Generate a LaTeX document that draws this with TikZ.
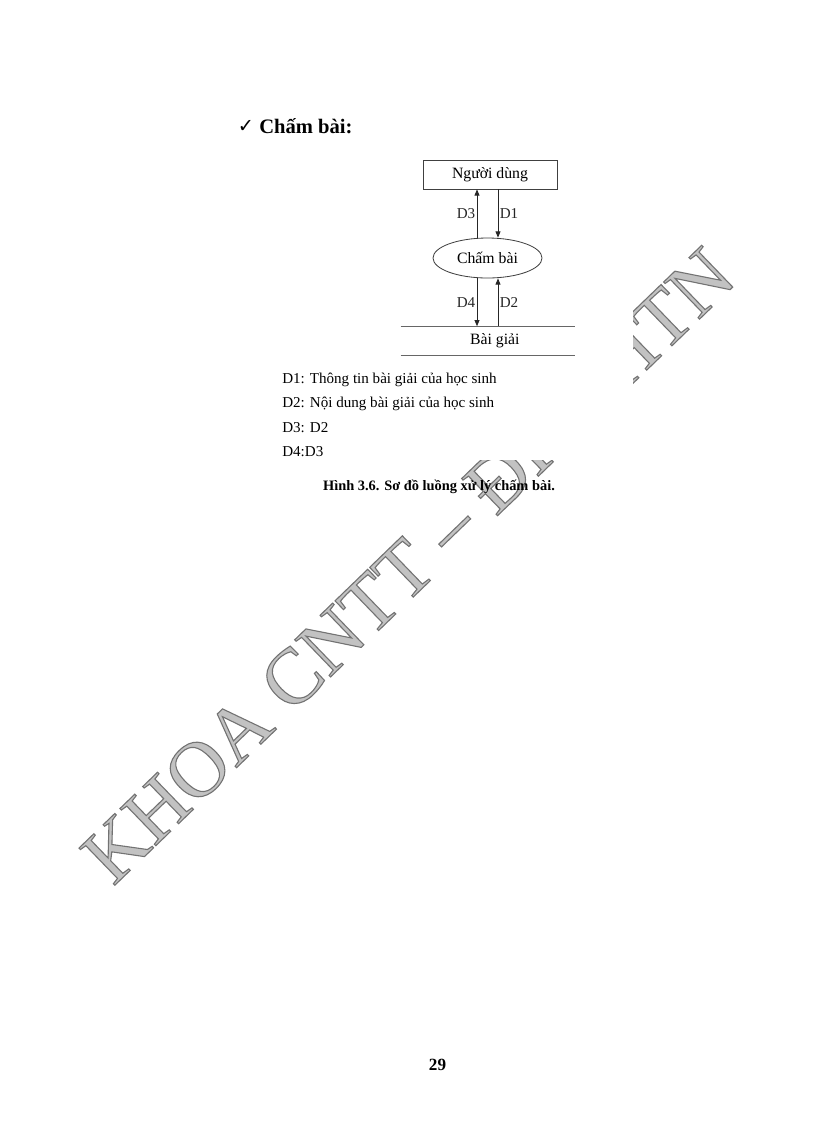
\documentclass[tikz,border=0pt]{standalone}
\usepackage{fontspec}
\setmainfont{Liberation Serif}
\newfontfamily\symfont{DejaVu Sans}
\font\wmfont="Liberation Serif:embolden=1.4" at 57.5pt
\usetikzlibrary{arrows.meta, shapes.geometric}
\newcommand{\unitpx}{0.7295pt}
\newcommand{\wmedge}{\special{pdf:code 0.45 G}}

\begin{document}
\begin{tikzpicture}[x=\unitpx, y=-\unitpx,
                flow/.style={-{Triangle[length=4.5pt, width=3.6pt]}, line width=0.6pt, black!85},
                lbl/.style={font=\fontsize{11}{13}\selectfont, inner sep=1pt},
                wmark/.style={font=\wmfont, text=black!24, rotate=44, inner sep=0pt}
            ]

            \useasboundingbox (0,0) rectangle (816,1123);

            % watermark, half of it hidden behind the picture
            \node[wmark, anchor=base west] (wmleft) at (113,887) {\wmedge KHOA CNTT – ĐH};
            \node[wmark, anchor=base east] (wmright) at (739,281) {\wmedge HTN};
            \fill[white] (380,140) rectangle (633,460);

            % heading
            \node[font=\symfont\fontsize{14}{16}\selectfont, inner sep=0pt] (tick) at (246,126) {✓};
            \node[anchor=west, inner sep=0pt, font=\bfseries\fontsize{15}{17}\selectfont] (head) at (259,126) {Chấm bài:};

            % diagram
            \node[draw=black!75, line width=0.6pt, minimum width=134*\unitpx, minimum height=29*\unitpx,
                  inner sep=0pt, font=\fontsize{11.5}{13}\selectfont] (user) at (490,174.5) {Người dùng};
            \node[draw=black!75, line width=0.6pt, ellipse, minimum width=109*\unitpx, minimum height=40*\unitpx,
                  inner sep=0pt, font=\fontsize{11.5}{13}\selectfont] (cham) at (487.5,258) {Chấm bài};
            \node[minimum width=174*\unitpx, minimum height=29*\unitpx, inner sep=0pt,
                  font=\fontsize{11.5}{13}\selectfont] (store) at (488,341) {\hspace{10pt}Bài giải};
            \draw[black!60, line width=0.8pt] (store.north west) -- (store.north east);
            \draw[black!60, line width=0.8pt] (store.south west) -- (store.south east);

            \coordinate (dl) at (477,0);
            \coordinate (dr) at (498,0);
            \draw[flow] (cham.north -| dl) -- (user.south -| dl) node[lbl, midway, left] {D3};
            \draw[flow] (user.south -| dr) -- (cham.north -| dr) node[lbl, midway, right] {D1};
            \draw[flow] (cham.south -| dl) -- (store.north -| dl) node[lbl, midway, left] {D4};
            \draw[flow] (store.north -| dr) -- (cham.south -| dr) node[lbl, midway, right] {D2};

            % legend
            \node[lbl, anchor=west, inner sep=0pt] (leg1) at (282,380) {D1: Thông tin bài giải của học sinh};
            \node[lbl, anchor=west, inner sep=0pt] (leg2) at (282,404) {D2: Nội dung bài giải của học sinh};
            \node[lbl, anchor=west, inner sep=0pt] (leg3) at (282,428) {D3: D2};
            \node[lbl, anchor=west, inner sep=0pt] (leg4) at (282,452) {D4:D3};

            \node[font=\bfseries\fontsize{10.5}{12}\selectfont] (caption) at (439,487) {Hình 3.6. Sơ đồ luồng xử lý chấm bài.};
            \node[font=\bfseries\fontsize{12.5}{14}\selectfont] (pageno) at (437.5,1065) {29};
        \end{tikzpicture}
\end{document}
